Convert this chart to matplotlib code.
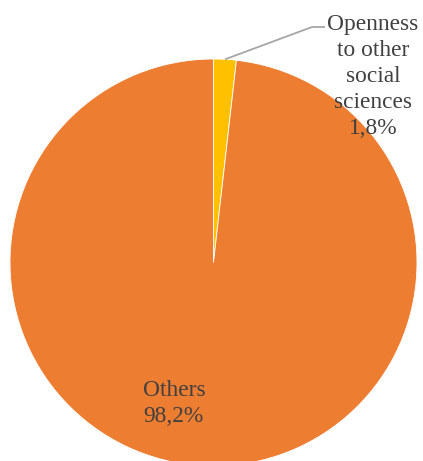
import numpy as np
import matplotlib.pyplot as plt

plt.rcParams["font.family"] = ["Liberation Serif", "DejaVu Serif"]

labels = ["Openness\nto other\nsocial\nsciences", "Others"]
values = [1.8, 98.2]
colors = ["#FFC000", "#ED7D31"]

W, H = 423, 461
fig = plt.figure(figsize=(W / 100, H / 100), dpi=100)
ax = fig.add_axes([0, 0, 1, 1])

cx, cy, r = 213.5, H - 262.5, 203.5
wedges, _ = ax.pie(values, colors=colors, startangle=90, counterclock=False,
                   center=(cx, cy), radius=r, frame=True,
                   wedgeprops=dict(edgecolor="white", linewidth=0.6))
ax.set_xlim(0, W)
ax.set_ylim(0, H)
ax.set_aspect("equal")
ax.axis("off")

txt = dict(fontsize=16.8, color="#404040", linespacing=1.32)

def pct(v):
    return f"{v:.1f}%".replace(".", ",")

# leader line for the small slice
w = wedges[0]
ang = np.deg2rad((w.theta1 + w.theta2) / 2)
x0, y0 = cx + r * np.cos(ang), cy + r * np.sin(ang)
ax.plot([x0, 312, 325], [y0, H - 27, H - 27], color="#A6A6A6", lw=1.3,
        solid_capstyle="butt")
ax.text(373, H - 14, labels[0] + "\n" + pct(values[0]),
        ha="center", va="top", **txt)

ax.text(143, H - 380, labels[1] + "\n" + pct(values[1]),
        ha="left", va="top", **txt)

fig.savefig("out.png", dpi=100)
